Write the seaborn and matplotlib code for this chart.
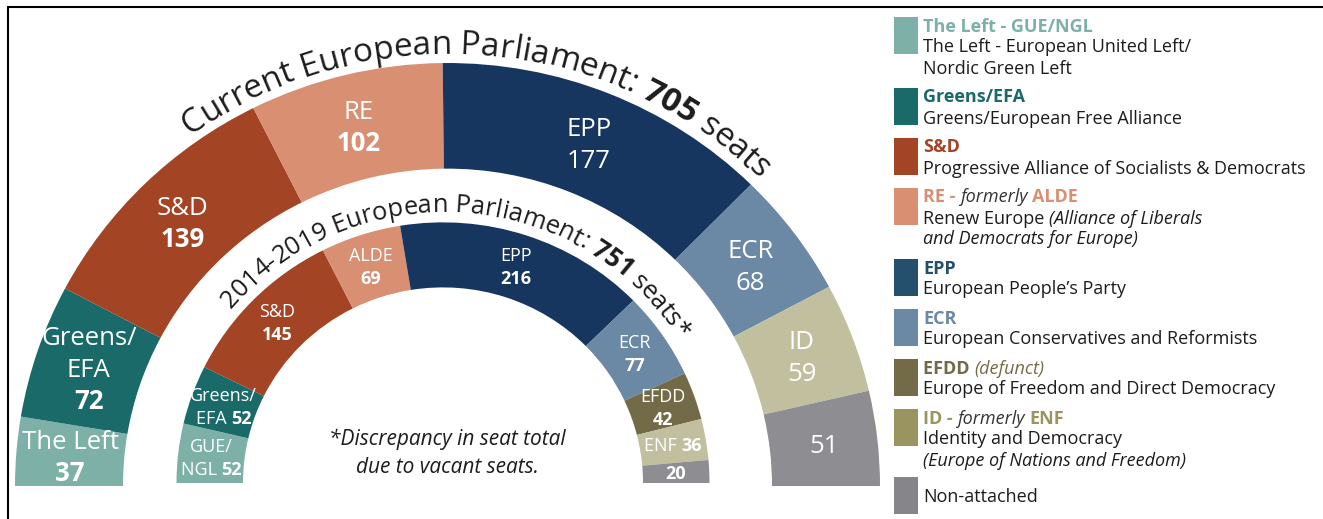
import numpy as np
import matplotlib.pyplot as plt
import seaborn as sns
from matplotlib.font_manager import FontProperties

sns.set_theme(style='white')
plt.rcParams['font.family'] = ['Open Sans', 'DejaVu Sans']

# current parliament (outer ring)
cur_names = ['The Left', 'Greens/\nEFA', 'S&D', 'RE', 'EPP', 'ECR', 'ID', '']
cur_seats = [37, 72, 139, 102, 177, 68, 59, 51]
cur_bold = [True, True, True, True, False, False, False, False]
cur_colors = ['#7db1a8', '#1b6a6a', '#a34425', '#d88f72', '#163660',
              '#6b88a5', '#c2bf9f', '#8e8e92']

# 2014-2019 parliament (inner ring)
old_names = ['GUE/\nNGL', 'Greens/\nEFA', 'S&D', 'ALDE', 'EPP', 'ECR', 'EFDD', 'ENF', '']
old_seats = [52, 52, 145, 69, 216, 77, 42, 36, 20]
old_inline = [True, True, False, False, False, False, False, True, False]
old_colors = ['#7db1a8', '#1b6a6a', '#a34425', '#d88f72', '#163660',
              '#6b88a5', '#736b48', '#c2bf9f', '#8e8e92']

cur_total = 705
old_total = 751

# legend
leg_colors = ['#7db1a8', '#1b6a6a', '#a34425', '#d88f72', '#24506e',
              '#6b88a5', '#736b48', '#9a9560', '#86868a']
leg_heads = [
    [('The Left - GUE/NGL', 'bold', 'normal', 0)],
    [('Greens/EFA', 'bold', 'normal', 0)],
    [('S&D', 'bold', 'normal', 0)],
    [('RE - ', 'bold', 'normal', 0), ('formerly ', 'normal', 'italic', None), ('ALDE', 'bold', 'normal', 0)],
    [('EPP', 'bold', 'normal', 0)],
    [('ECR', 'bold', 'normal', 0)],
    [('EFDD ', 'bold', 'normal', 0), ('(defunct)', 'normal', 'italic', 0)],
    [('ID - ', 'bold', 'normal', 0), ('formerly ', 'normal', 'italic', None), ('ENF', 'bold', 'normal', 0)],
    [],
]
leg_desc = [
    [[('The Left - European United Left/', 'normal')], [('Nordic Green Left', 'normal')]],
    [[('Greens/European Free Alliance', 'normal')]],
    [[('Progressive Alliance of Socialists & Democrats', 'normal')]],
    [[('Renew Europe ', 'normal'), ('(Alliance of Liberals', 'italic')],
     [('and Democrats for Europe)', 'italic')]],
    [[('European People\u2019s Party', 'normal')]],
    [[('European Conservatives and Reformists', 'normal')]],
    [[('Europe of Freedom and Direct Democracy', 'normal')]],
    [[('Identity and Democracy', 'normal')], [('(Europe of Nations and Freedom)', 'italic')]],
    [[('Non-attached', 'normal')]],
]

W, H, KY = 1323, 519, 0.978
DARK = '#1c1c1c'
FAM = 'Open Sans'

fig = plt.figure(figsize=(W / 100, H / 100), dpi=100)
ax = fig.add_axes([0, 0, 1, 1])
renderer = fig.canvas.get_renderer()


def dxy(px, py):
    # pixel position -> data position
    return px, (H - py) / KY


def adv(s, fp):
    if not s:
        return 0.0
    w1 = renderer.get_text_width_height_descent(s + 'I', fp, ismath=False)[0]
    w0 = renderer.get_text_width_height_descent('I', fp, ismath=False)[0]
    return w1 - w0


def rich_line(px, py, segs, ha='left'):
    # segs: (text, FontProperties, color); py is baseline in pixels
    widths = [adv(s, fp) for s, fp, c in segs]
    x = px - sum(widths) / 2 if ha == 'center' else px
    for (s, fp, c), w in zip(segs, widths):
        ax.text(*dxy(x, py), s, fontproperties=fp, color=c, ha='left', va='baseline')
        x += w


def arc_text(segs, cx, cy, rb, a0, a1, base=20):
    chars, centres = [], []
    off = 0.0
    for s, weight in segs:
        fp = FontProperties(family=FAM, weight=weight, size=base)
        for i, ch in enumerate(s):
            centres.append(off + (adv(s[:i], fp) + adv(s[:i + 1], fp)) / 2)
            chars.append((ch, weight))
        off += adv(s, fp)
    k = rb * np.radians(a0 - a1) / off
    for (ch, weight), c in zip(chars, centres):
        th = np.radians(a0) - c * k / rb
        x, y = dxy(cx + rb * np.cos(th), cy - rb * KY * np.sin(th))
        ax.text(x, y, ch, fontsize=base * k, fontweight=weight, family=FAM,
                color=DARK, rotation=np.degrees(th) - 90, ha='center',
                va='baseline', rotation_mode='anchor')


rings = [
    dict(seats=cur_seats, colors=cur_colors, c=(447.5, 486), r=432.5, w=108),
    dict(seats=old_seats, colors=old_colors, c=(443, 483), r=266.5, w=66.5),
]
for rg in rings:
    frac = np.array(rg['seats']) / sum(rg['seats']) / 2
    ax.pie(frac, colors=rg['colors'], radius=rg['r'], center=dxy(*rg['c']),
           startangle=180, counterclock=False, normalize=False, frame=True,
           wedgeprops=dict(width=rg['w'], linewidth=0))

ax.set_aspect('auto')
ax.set_xlim(0, W)
ax.set_ylim(0, H / KY)
ax.axis('off')


def wedge_labels(rg, names, seats, bold, inline, size, ls):
    cx, cy = rg['c']
    rm = rg['r'] - rg['w'] / 2
    tot = sum(seats)
    cum = np.cumsum([0] + list(seats))
    cap = 0.714 * size * 100 / 72
    for i, (name, n) in enumerate(zip(names, seats)):
        th = np.radians(180 - (cum[i] + n / 2) / tot * 180)
        x, y = cx + rm * np.cos(th), cy - rm * KY * np.sin(th)
        fr = FontProperties(family=FAM, size=size)
        fb = FontProperties(family=FAM, size=size, weight='bold' if bold[i] else 'normal')
        lines = [[(t, fr, 'white')] for t in name.split('\n')] if name else []
        if inline[i] and lines:
            lines[-1] = [(lines[-1][0][0] + ' ', fr, 'white'), (str(n), fb, 'white')]
        else:
            lines.append([(str(n), fb, 'white')])
        nl = len(lines)
        for j, segs in enumerate(lines):
            yc = y + (j - (nl - 1) / 2) * ls
            rich_line(x, yc + cap / 2, segs, ha='center')


wedge_labels(rings[0], cur_names, cur_seats, cur_bold, [False] * 8, 18.5, 32)
wedge_labels(rings[1], old_names, old_seats, [True] * 9, old_inline, 13, 23)

# curved titles
arc_text([('Current European Parliament: ', 'normal'), (str(cur_total), 'bold'),
          (' seats', 'normal')], 447.5, 486, 442, 125.7, 45.2)
arc_text([('2014-2019 European Parliament: ', 'normal'), (str(old_total), 'bold'),
          (' seats*', 'normal')], 443, 483, 277, 140, 32)

# footnote
fn = FontProperties(family=FAM, size=15, style='italic')
rich_line(447, 445, [('*Discrepancy in seat total', fn, DARK)], ha='center')
rich_line(447, 473, [('due to vacant seats.', fn, DARK)], ha='center')

# legend
LS = 13
y = 25
for col, head, desc in zip(leg_colors, leg_heads, leg_desc):
    n_lines = (1 if head else 0) + len(desc)
    if head:
        ax.add_patch(plt.Rectangle(dxy(894, y - 8 + 37), 24, 37 / KY, color=col, lw=0))
        segs = [(t, FontProperties(family=FAM, size=LS, weight=wt, style=st),
                 col if c == 0 else '#333333') for t, wt, st, c in head]
        rich_line(923, y + 6.5, segs)
        yy = y + 21
    else:
        ax.add_patch(plt.Rectangle(dxy(894, y - 11 + 37), 24, 37 / KY, color=col, lw=0))
        yy = y + 7
    for line in desc:
        segs = [(t, FontProperties(family=FAM, size=LS, style=st), DARK) for t, st in line]
        rich_line(923, yy + 6.5, segs)
        yy += 21
    y += n_lines * 21 + 8

# border
ax.plot(*zip(dxy(8, 7), dxy(W, 7)), color='black', lw=1.5)
ax.plot(*zip(dxy(8, 7), dxy(8, H)), color='black', lw=1.5)

fig.savefig('out.png', dpi=100)
